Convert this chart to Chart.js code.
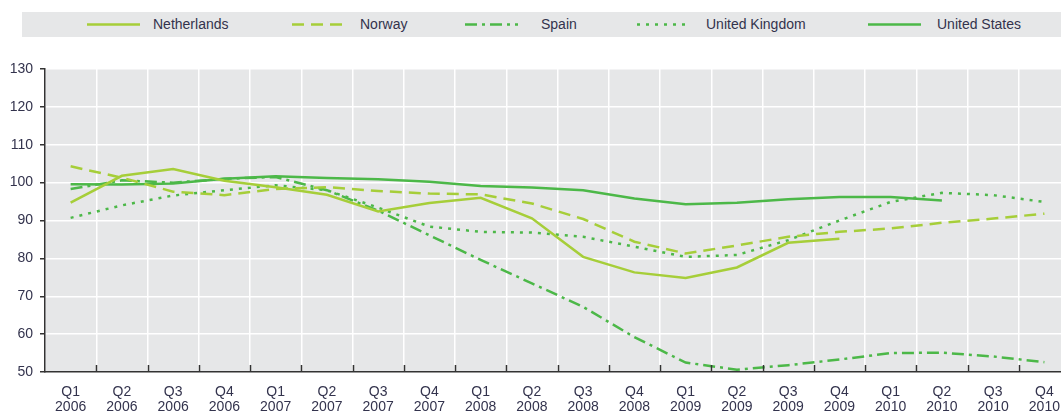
<!DOCTYPE html>
<html>
<head>
<meta charset="utf-8">
<script src="https://cdn.jsdelivr.net/npm/chart.js@4.4.1/dist/chart.umd.min.js"></script>
<style>
    html, body { margin: 0; padding: 0; background: #fff; overflow: hidden; }
    #wrap { position: relative; width: 1061px; height: 414px; overflow: hidden; }
    #chartBox { position: absolute; left: 0; top: 0; width: 1072px; height: 414px; }
    #legend {
        position: absolute; left: 22px; top: 12px; width: 1039px; height: 25px;
        background: #e6e7e8; font-family: 'Liberation Sans', Arial, sans-serif;
        font-size: 14px; color: #33334d;
    }
    .item { position: absolute; top: 0; height: 25px; line-height: 25px; }
    .item svg { position: absolute; top: 0; left: 0; }
    .item span { position: absolute; top: 0; white-space: nowrap; }
</style>
</head>
<body>
<div id="wrap">
    <div id="chartBox"><canvas id="ratioChart" width="1072" height="414"></canvas></div>
    <div id="legend"></div>
</div>
<script>
const quarters = ['Q1', 'Q2', 'Q3', 'Q4'];
const years = ['2006', '2007', '2008', '2009', '2010'];
const labels = [];
years.forEach(y => quarters.forEach(q => labels.push([q, y])));

const netherlands = [94.7, 101.8, 103.6, 100.5, 98.8, 96.8, 92.4, 94.6, 96.0, 90.6, 80.4, 76.3, 74.8, 77.6, 84.1, 85.2, null, null, null, null];
const norway = [104.3, 101.3, 97.6, 96.7, 98.3, 98.8, 97.8, 97.1, 96.9, 94.5, 90.4, 84.4, 81.3, 83.4, 85.7, 87.0, 87.9, 89.4, 90.5, 91.8];
const spain = [98.3, 100.6, 100.0, 101.0, 101.5, 98.0, 92.6, 86.1, 79.6, 73.4, 67.2, 59.2, 52.5, 50.6, 51.8, 53.3, 55.0, 55.1, 54.1, 52.6];
const unitedKingdom = [90.7, 94.0, 96.6, 98.0, 99.3, 98.0, 93.4, 88.4, 87.0, 86.8, 85.7, 83.1, 80.4, 80.9, 84.8, 90.0, 94.9, 97.3, 96.7, 94.9];
const unitedStates = [99.6, 99.5, 99.8, 101.0, 101.7, 101.2, 100.9, 100.2, 99.1, 98.7, 98.0, 95.8, 94.3, 94.7, 95.6, 96.2, 96.2, 95.3, null, null];

const yTicks = [50, 60, 70, 80, 90, 100, 110, 120, 130];

const lightGreen = '#a6ce39';
const midGreen = '#4cb848';

const series = [
    { name: 'Netherlands', data: netherlands, color: lightGreen, dash: [] },
    { name: 'Norway', data: norway, color: lightGreen, dash: [12, 7] },
    { name: 'Spain', data: spain, color: midGreen, dash: [12, 5, 3, 5] },
    { name: 'United Kingdom', data: unitedKingdom, color: midGreen, dash: [3, 6] },
    { name: 'United States', data: unitedStates, color: midGreen, dash: [] }
];

// legend (html, so the spacing can follow the original band)
const legendPos = [[65, 131], [270, 338], [443, 519], [615, 684], [846, 915]];
const legend = document.getElementById('legend');
series.forEach((s, i) => {
    const div = document.createElement('div');
    div.className = 'item';
    div.style.left = legendPos[i][0] + 'px';
    div.innerHTML = '<svg width="54" height="25"><line x1="0" y1="12.5" x2="53" y2="12.5" stroke="' + s.color +
        '" stroke-width="2.5" stroke-dasharray="' + (s.dash.length ? s.dash.join(' ') : 'none') + '"/></svg>' +
        '<span style="left:' + (legendPos[i][1] - legendPos[i][0]) + 'px">' + s.name + '</span>';
    legend.appendChild(div);
});

const plotBackground = {
    id: 'plotBackground',
    beforeDraw(chart) {
        const { ctx, chartArea } = chart;
        ctx.save();
        ctx.fillStyle = '#e6e7e8';
        ctx.fillRect(chartArea.left, chartArea.top, chartArea.right - chartArea.left, chartArea.bottom - chartArea.top);
        ctx.restore();
    },
    afterDatasetsDraw(chart) {
        // small tick marks pointing up from the x axis, at the category borders
        const { ctx, chartArea, scales } = chart;
        const x = scales.x;
        ctx.save();
        ctx.strokeStyle = '#333';
        ctx.lineWidth = 1.5;
        for (let i = 1; i < labels.length; i++) {
            const px = Math.round((x.getPixelForTick(i - 1) + x.getPixelForTick(i)) / 2) + 0.5;
            ctx.beginPath();
            ctx.moveTo(px, chartArea.bottom);
            ctx.lineTo(px, chartArea.bottom - 7);
            ctx.stroke();
        }
        ctx.restore();
    }
};

new Chart(document.getElementById('ratioChart').getContext('2d'), {
    type: 'line',
    data: {
        labels: labels,
        datasets: series.map(s => ({
            label: s.name,
            data: s.data,
            borderColor: s.color,
            borderWidth: 2.5,
            borderDash: s.dash,
            borderCapStyle: 'butt',
            pointRadius: 0,
            tension: 0,
            fill: false
        }))
    },
    options: {
        responsive: false,
        animation: false,
        events: [],
        layout: { padding: { top: 69, right: 1, left: 0, bottom: 0 } },
        plugins: { legend: { display: false }, tooltip: { enabled: false } },
        scales: {
            x: {
                offset: true,
                grid: { offset: true, color: '#ffffff', lineWidth: 1.5, drawTicks: false },
                border: { color: '#333333', width: 1.5 },
                ticks: {
                    padding: 12, maxRotation: 0, autoSkip: false,
                    color: '#33334d',
                    font: { family: "'Liberation Sans', Arial, sans-serif", size: 14, lineHeight: 1.1 }
                },
                afterFit(scale) { scale.height = 42; }
            },
            y: {
                min: 50, max: 130,
                afterBuildTicks(scale) { scale.ticks = yTicks.map(v => ({ value: v })); },
                grid: { color: '#ffffff', lineWidth: 1.5, tickColor: '#333333', tickLength: 5 },
                border: { color: '#333333', width: 1.5 },
                ticks: {
                    padding: 7,
                    color: '#33334d',
                    font: { family: "'Liberation Sans', Arial, sans-serif", size: 14 }
                },
                afterFit(scale) { scale.width = 45; }
            }
        }
    },
    plugins: [plotBackground]
});
</script>
</body>
</html>
